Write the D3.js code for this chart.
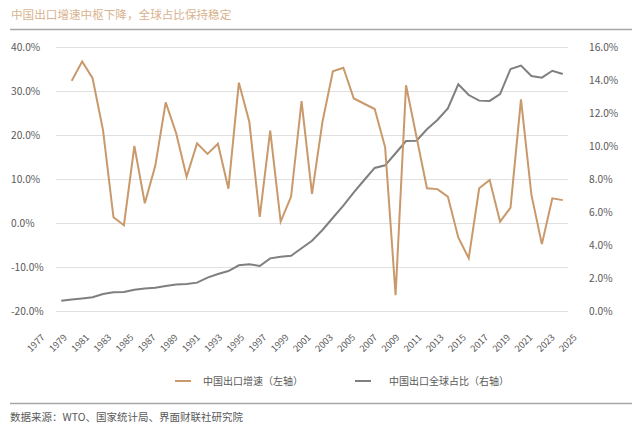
<!DOCTYPE html>
<html>
  <head>
    <meta charset="utf-8">
    <title>中国出口增速与全球占比</title>
    <script type="text/javascript" src="https://cdn.jsdelivr.net/npm/d3@7/dist/d3.min.js"></script>
    <style>
      body { margin: 0; background: #fff; }
      text { font-family: "Noto Sans CJK SC", "Noto Sans", sans-serif; }
    </style>
  </head>
  <body>
    <script type="text/javascript">
     // data
     let years = d3.range(1977, 2026);
     let growthYears = d3.range(1978, 2026);
     let growth = [
       32.3, 36.7, 32.9, 21.1, 1.3, -0.5, 17.5, 4.5, 13.0, 27.4,
       20.4, 10.5, 18.1, 15.7, 18.0, 7.8, 31.9, 23.0, 1.4, 21.0,
       0.3, 6.0, 27.7, 6.6, 23.0, 34.5, 35.3, 28.3, 27.1, 25.9,
       17.2, -16.4, 31.3, 19.6, 7.9, 7.7, 6.0, -3.3, -8.0, 7.9,
       9.8, 0.3, 3.5, 28.1, 6.4, -4.8, 5.6, 5.2
     ];
     let share = [
       0.62, 0.70, 0.76, 0.83, 1.03, 1.13, 1.15, 1.29, 1.37, 1.41,
       1.52, 1.60, 1.64, 1.72, 2.02, 2.24, 2.42, 2.77, 2.83, 2.73,
       3.19, 3.29, 3.35, 3.80, 4.26, 4.91, 5.65, 6.38, 7.19, 7.94,
       8.67, 8.83, 9.56, 10.30, 10.32, 11.01, 11.58, 12.28, 13.74, 13.09,
       12.75, 12.73, 13.15, 14.67, 14.87, 14.24, 14.14, 14.56, 14.36
     ];
     let leftTicks = [-20, -10, 0, 10, 20, 30, 40];
     let rightTicks = [0, 2, 4, 6, 8, 10, 12, 14, 16];
     let labelYears = d3.range(1977, 2026, 2);

     let titleText = "中国出口增速中枢下降，全球占比保持稳定";
     let legendNames = ["中国出口增速（左轴）", "中国出口全球占比（右轴）"];
     let sourceText = "数据来源：WTO、国家统计局、界面财联社研究院";

     // set the canvas
     let w = 642;
     let h = 434;
     let plot = {left: 56, right: 568, top: 47, bottom: 311};
     let orange = "#c9996b";
     let grey = "#7f7f7f";
     let textColor = "#595959";

     let svg = d3.select("body").append("svg")
		 .attr("width", w)
		 .attr("height", h)
		 .style("display", "block");

     // title and rules
     svg.append("text")
	.attr("x", 11)
	.attr("y", 19)
	.attr("fill", "#d9b38f")
	.attr("font-size", "11.6px")
	.text(titleText);
     svg.append("line")
	.attr("x1", 10).attr("x2", 632)
	.attr("y1", 29.5).attr("y2", 29.5)
	.attr("stroke", "#a6a6a6")
	.attr("stroke-width", 1.5);

     // scales
     let xScale = d3.scaleBand()
		    .domain(years)
		    .range([plot.left, plot.right]);
     let xPos = (yr) => xScale(yr) + xScale.bandwidth() / 2;
     let xLabelScale = d3.scalePoint()                  // the year labels sit slightly off the points in the original
			 .domain(years)
			 .range([45, 577]);
     let yLeft = d3.scaleLinear()
		   .domain([-20, 40])
		   .range([plot.bottom, plot.top]);
     let yRight = d3.scaleLinear()
		    .domain([0, 16])
		    .range([plot.bottom, plot.top]);

     // grid lines
     svg.append("g")
	.selectAll("line")
	.data(leftTicks)
	.enter()
	.append("line")
	.attr("x1", plot.left)
	.attr("x2", plot.right)
	.attr("y1", (d) => yLeft(d) + 0.5)
	.attr("y2", (d) => yLeft(d) + 0.5)
	.attr("stroke", "#e0e0e0")
	.attr("stroke-width", 1);

     // left axis (labels left aligned at the edge)
     let leftAxis = d3.axisLeft(yLeft)
		      .tickValues(leftTicks)
		      .tickSize(0)
		      .tickFormat((d) => d.toFixed(1) + "%");
     let gLeft = svg.append("g")
		    .attr("transform", "translate(11, 0)")
		    .call(leftAxis);
     gLeft.select(".domain").remove();
     gLeft.selectAll("text")
	  .attr("x", 0)
	  .attr("text-anchor", "start")
	  .attr("fill", textColor)
	  .attr("font-size", "10.2px");

     // right axis
     let rightAxis = d3.axisRight(yRight)
		       .tickValues(rightTicks)
		       .tickSize(0)
		       .tickFormat((d) => d.toFixed(1) + "%");
     let gRight = svg.append("g")
		     .attr("transform", "translate(589, 0)")
		     .call(rightAxis);
     gRight.select(".domain").remove();
     gRight.selectAll("text")
	   .attr("x", 0)
	   .attr("fill", textColor)
	   .attr("font-size", "10.2px");

     // bottom axis, rotated year labels
     let xAxis = d3.axisBottom(xLabelScale)
		   .tickValues(labelYears)
		   .tickSize(0);
     let gX = svg.append("g")
		 .attr("transform", "translate(0, 338)")
		 .call(xAxis);
     gX.select(".domain").remove();
     gX.selectAll("text")
       .attr("y", 0)
       .attr("dy", 0)
       .attr("text-anchor", "end")
       .attr("transform", "rotate(-45)")
       .attr("fill", textColor)
       .attr("font-size", "9.3px");

     // lines
     let growthLine = d3.line()
			.x((d, i) => xPos(growthYears[i]))
			.y((d) => yLeft(d));
     let shareLine = d3.line()
		       .x((d, i) => xPos(years[i]))
		       .y((d) => yRight(d));

     svg.append("path")
	.datum(share)
	.attr("d", shareLine)
	.attr("fill", "none")
	.attr("stroke", grey)
	.attr("stroke-width", 2);
     svg.append("path")
	.datum(growth)
	.attr("d", growthLine)
	.attr("fill", "none")
	.attr("stroke", orange)
	.attr("stroke-width", 2);

     // legend
     let legend = [
       {name: legendNames[0], color: orange, x: 175, tx: 203},
       {name: legendNames[1], color: grey, x: 355, tx: 389}
     ];
     let lg = svg.append("g");
     lg.selectAll("line")
       .data(legend)
       .enter()
       .append("line")
       .attr("x1", (d) => d.x)
       .attr("x2", (d) => d.x + 16)
       .attr("y1", 381)
       .attr("y2", 381)
       .attr("stroke", (d) => d.color)
       .attr("stroke-width", 2);
     lg.selectAll("text")
       .data(legend)
       .enter()
       .append("text")
       .attr("x", (d) => d.tx)
       .attr("y", 384.5)
       .attr("fill", textColor)
       .attr("font-size", "10px")
       .text((d) => d.name);

     // source
     svg.append("line")
	.attr("x1", 10).attr("x2", 632)
	.attr("y1", 403.5).attr("y2", 403.5)
	.attr("stroke", "#a6a6a6")
	.attr("stroke-width", 1.5);
     svg.append("text")
	.attr("x", 10)
	.attr("y", 421)
	.attr("fill", textColor)
	.attr("font-size", "10.5px")
	.text(sourceText);
    </script>
  </body>
</html>
